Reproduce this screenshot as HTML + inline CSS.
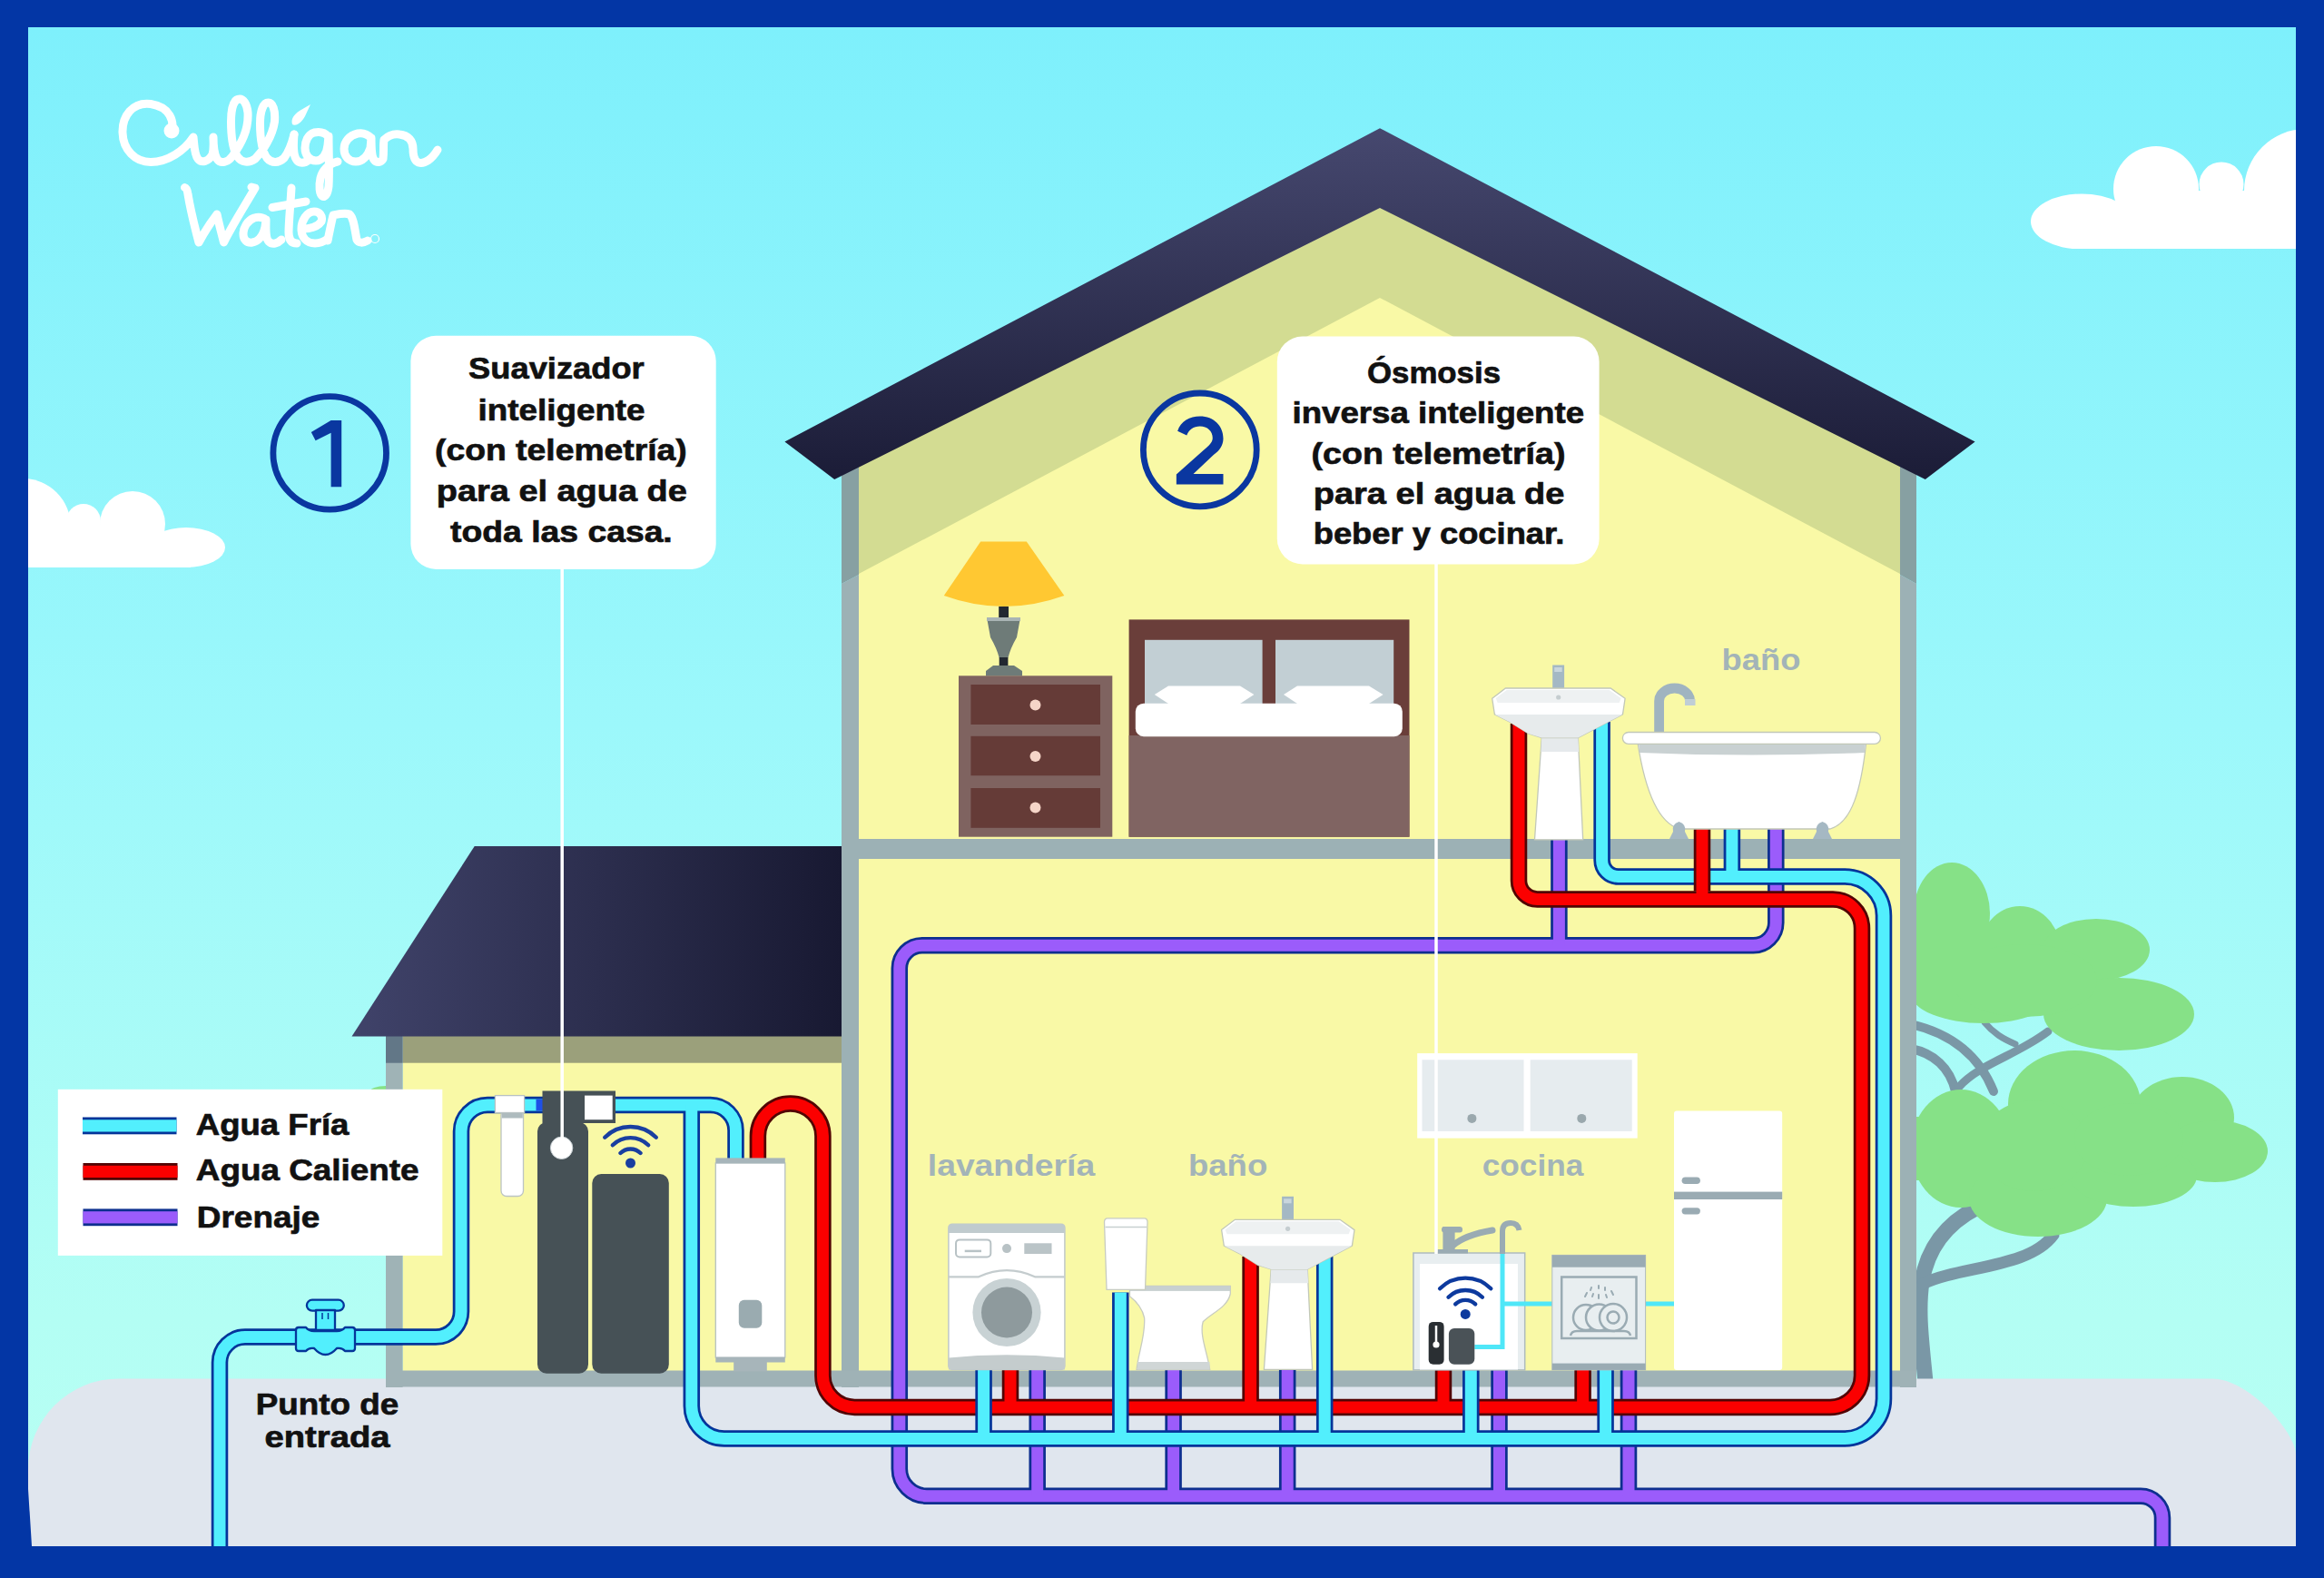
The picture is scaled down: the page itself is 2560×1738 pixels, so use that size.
<!DOCTYPE html>
<html><head><meta charset="utf-8"><title>Culligan</title>
<style>
html,body{margin:0;padding:0;background:#0336a5;}
svg{display:block;}
text{font-family:"Liberation Sans",sans-serif;font-weight:bold;}
</style></head>
<body>
<svg width="2560" height="1738" viewBox="0 0 2560 1738">
<defs>
<linearGradient id="sky" x1="0" y1="0" x2="0" y2="1">
<stop offset="0" stop-color="#7ef0fc"/>
<stop offset="0.46" stop-color="#9cf8fb"/>
<stop offset="0.85" stop-color="#b3fef4"/>
<stop offset="1" stop-color="#b8fff3"/>
</linearGradient>
<linearGradient id="roof" x1="0" y1="0" x2="0" y2="1">
<stop offset="0" stop-color="#46486f"/>
<stop offset="1" stop-color="#1b1c37"/>
</linearGradient>
<linearGradient id="groof" x1="0" y1="0" x2="1" y2="0">
<stop offset="0" stop-color="#40436a"/>
<stop offset="1" stop-color="#181932"/>
</linearGradient>
</defs>
<!-- border -->
<rect x="0" y="0" width="2560" height="1738" fill="#0336a5"/>
<!-- sky -->
<rect x="31" y="30" width="2498" height="1673" fill="url(#sky)"/>
<clipPath id="cl1"><rect x="31" y="400" width="400" height="225"/></clipPath>
<clipPath id="cl2"><rect x="2150" y="100" width="379" height="174"/></clipPath>
<g fill="#ffffff" clip-path="url(#cl1)">
<circle cx="25" cy="580" r="53"/><circle cx="92" cy="574" r="19"/><circle cx="146" cy="577" r="36"/>
<ellipse cx="205" cy="603" rx="43" ry="22"/><rect x="20" y="590" width="190" height="35"/><rect x="20" y="578" width="150" height="20"/>
</g>
<g fill="#ffffff" clip-path="url(#cl2)">
<ellipse cx="2293" cy="244" rx="56" ry="30.5"/><circle cx="2375" cy="208" r="47"/><circle cx="2447" cy="203" r="24.5"/>
<circle cx="2540" cy="210" r="68"/><rect x="2345" y="210" width="190" height="64"/><rect x="2290" y="244" width="240" height="30"/>
</g>

<g fill="none" stroke="#ffffff" stroke-width="9" stroke-linecap="round" stroke-linejoin="round">
<path d="M189 145 C192 134 188 118 166 114.5 C146 112 134.5 128 135 146 C135.5 165 149 178.5 166 178.5 C185 178.5 203 166 213 151 C214 160 214 170 218 175 C222 180 230 178 234 170 C236 163 235 156 235 151 C235 160 236 170 239 175 C243 181 251 179 256 172 C266 158 274 143 273 124 C272 114 268 109 264 109 C258 109 254.5 118 254.5 134 C254.5 152 257 166 262 173 C266 179 274 180 281 175 C290 166 300 150 302.5 134 C303.5 121 300.5 113 295.5 113 C290 113 286.5 122 286.5 136 C286.5 153 289 167 294 174 C299 180 307 180 313 174 C319 166 322 156 324 148"/>
<path d="M324 148 C323 160 323 170 326 175 C329 181 336 180 340 176"/>
<path d="M361 150 C357 145 351 145 346 146 C339 148 336 156 336 163 C336 171 341 177 348 177 C355 177 360 170 361 160 L362 150 C362 170 363 190 362 205 C361 214 358 218 355 216 C352 214 351 205 353 196 C355 188 362 180 372 178"/>
<path d="M409 152 C404 147 399 146 394 147 C385 149 379 156 379 164 C379 172 384 178 392 178 C399 178 405 172 408 163 L409 152 C409 162 409 172 412 176 C415 180 420 179 422 175 C423 167 422 160 423 154 C427 150 433 147 440 148 C450 149 455 155 455 164 C455 171 456 177 461 179 C468 181 476 175 482 165"/>
<path d="M203.5 206.5 C205.5 207 206.5 210 207 214 C210 232 215 252 219 267 C225 256 232 245 239 236 C241 246 244 257 246.5 267 C257 246 270 226 281 207 L277 206"/>
<path d="M293 242 C289 239 284 239 280 240 C272 243 268 251 268 258 C268 264 272 268 278 267 C285 266 290 259 292 250 L293 242 C293 252 292 262 296 266 C300 270 306 268 310 264"/>
<path d="M321 207 C320 225 318 245 318 256 C318 264 321 268 327 268"/>
<path d="M300 228.5 L337 222"/>
<path d="M332 252 C340 252 350 250 354 244 C356 238 352 233 346 233 C338 233 332 243 332 252 C332 262 338 268 347 268 C352 268 357 266 361 263"/>
<path d="M361 265 C363 255 365 245 367 237 C372 236 380 234 385 236 C390 240 391 255 393 264 C395 268 400 268 405 265"/>
</g>
<path d="M322 137 C320 131 324 126 330 122 L342 115 L336 128 C333 134 326 140 322 137 Z" fill="#ffffff"/>
<circle cx="189" cy="144" r="8.5" fill="#ffffff"/>
<circle cx="413" cy="263" r="4.5" fill="none" stroke="#ffffff" stroke-width="1.2"/>

<g>
<g fill="none" stroke="#7a97a6" stroke-linecap="round">
<path d="M2121 1522 C2117 1480 2112 1445 2117 1412 C2123 1375 2143 1348 2178 1330" stroke-width="17"/>
<path d="M2118 1414 C2160 1394 2235 1397 2262 1360" stroke-width="13"/>
<path d="M2105 1128 C2148 1138 2180 1162 2196 1202" stroke-width="10"/>
<path d="M2105 1155 C2130 1160 2148 1176 2154 1202" stroke-width="10"/>
<path d="M2158 1197 C2180 1172 2222 1162 2256 1136" stroke-width="9"/>
<path d="M2186 1126 C2196 1138 2206 1144 2220 1150" stroke-width="7"/>
</g>
<g fill="#86e187">
<ellipse cx="2150" cy="1006" rx="42" ry="56"/>
<ellipse cx="2225" cy="1052" rx="46" ry="54"/>
<ellipse cx="2309" cy="1046" rx="59" ry="34"/>
<ellipse cx="2334" cy="1117" rx="83" ry="40"/>
<ellipse cx="2185" cy="1094" rx="80" ry="33"/>
<ellipse cx="2285" cy="1216" rx="73" ry="59"/>
<ellipse cx="2404" cy="1231" rx="57" ry="45"/>
<ellipse cx="2440" cy="1268" rx="58" ry="34"/>
<ellipse cx="2160" cy="1265" rx="55" ry="65"/>
<ellipse cx="2245" cy="1320" rx="76" ry="42"/>
<ellipse cx="2350" cy="1295" rx="70" ry="34"/>
<ellipse cx="2240" cy="1262" rx="60" ry="50"/>
<ellipse cx="2230" cy="1080" rx="80" ry="40"/>
<rect x="2105" y="1010" width="85" height="85"/>
<ellipse cx="2345" cy="1255" rx="60" ry="40"/>
<rect x="2105" y="1230" width="120" height="70"/>
</g>
</g>
<ellipse cx="425" cy="1203" rx="18" ry="7" fill="#86e187"/>

<path d="M31 1703 L31 1618 A100 100 0 0 1 131 1518.4 L2437 1518.4 C2477 1518.4 2529 1578 2529 1602 L2529 1703 Z" fill="#e0e6ee"/>
<polygon points="30,1624 35,1703 30,1703" fill="#0336a5"/>

<!-- garage -->
<rect x="443.6" y="1141" width="484" height="370" fill="#f9f9a6"/>
<rect x="443.6" y="1141" width="484" height="29.7" fill="#9ba07b"/>
<rect x="425" y="1141" width="18.6" height="387" fill="#9fb3b6"/>
<rect x="425" y="1141" width="18.6" height="29.7" fill="#627787"/>
<polygon points="522.7,932 927,932 927,1141.5 387.5,1141.5" fill="url(#groof)"/>
<!-- main house -->
<polygon points="946,500 1520,220 2093,500 2093,1511 946,1511" fill="#f9f9a6"/>
<polygon points="946,500 1520,220 2093,500 2093,632 1520,328 946,632" fill="#d3dc92"/>
<polygon points="927,500 946,500 946,633 927,643" fill="#87a0a2"/>
<polygon points="927,643 946,633 946,1528 927,1528" fill="#9cb1b5"/>
<polygon points="2093,500 2111,500 2111,643 2093,633" fill="#87a0a2"/>
<polygon points="2093,633 2111,643 2111,1528 2093,1528" fill="#9cb1b5"/>
<rect x="946" y="924" width="1147" height="22" fill="#9cb1b5"/>
<rect x="425" y="1509.5" width="1686" height="18" fill="#9fb2b6"/>
<polygon points="864.4,486.4 1520,141.2 2175.6,486.4 2120.8,528 1520,229 919.2,528" fill="url(#roof)"/>

<g fill="none" stroke="#0d2f8f" stroke-width="18.5"><path d="M1956.3 913 L1956.3 1016.3 A25 25 0 0 1 1931.3 1041.3 L1015.8 1041.3 A25 25 0 0 0 990.8 1066.3 L990.8 1617.7 A30 30 0 0 0 1020.8 1647.7 L2358 1647.7 A24 24 0 0 1 2382 1671.7 L2382 1703"/><path d="M1142.7 1647.7 L1142.7 1509"/><path d="M1292.6 1647.7 L1292.6 1509"/><path d="M1418.2 1647.7 L1418.2 1509"/><path d="M1651.5 1647.7 L1651.5 1509"/><path d="M1794 1647.7 L1794 1509"/><path d="M1717.4 1041.3 L1717.4 925"/></g>
<g fill="none" stroke="#9b5cfb" stroke-width="13"><path d="M1956.3 913 L1956.3 1016.3 A25 25 0 0 1 1931.3 1041.3 L1015.8 1041.3 A25 25 0 0 0 990.8 1066.3 L990.8 1617.7 A30 30 0 0 0 1020.8 1647.7 L2358 1647.7 A24 24 0 0 1 2382 1671.7 L2382 1703"/><path d="M1142.7 1647.7 L1142.7 1509"/><path d="M1292.6 1647.7 L1292.6 1509"/><path d="M1418.2 1647.7 L1418.2 1509"/><path d="M1651.5 1647.7 L1651.5 1509"/><path d="M1794 1647.7 L1794 1509"/><path d="M1717.4 1041.3 L1717.4 925"/></g>
<g fill="none" stroke="#520404" stroke-width="18.5"><path d="M834.9 1280 L834.9 1251.3 A35.75 35.75 0 0 1 906.4 1251.3 L906.4 1514.9 A35 35 0 0 0 941.4 1549.9 L2016 1549.9 A35 35 0 0 0 2051 1514.9 L2051 1022.4 A32 32 0 0 0 2019 990.4 L1693.5 990.4 A20.5 20.5 0 0 1 1673 969.9 L1673 797"/><path d="M1113 1549.9 L1113 1509"/><path d="M1377.6 1549.9 L1377.6 1384"/><path d="M1590 1549.9 L1590 1509"/><path d="M1743.6 1549.9 L1743.6 1509"/></g>
<g fill="none" stroke="#fb0000" stroke-width="13"><path d="M834.9 1280 L834.9 1251.3 A35.75 35.75 0 0 1 906.4 1251.3 L906.4 1514.9 A35 35 0 0 0 941.4 1549.9 L2016 1549.9 A35 35 0 0 0 2051 1514.9 L2051 1022.4 A32 32 0 0 0 2019 990.4 L1693.5 990.4 A20.5 20.5 0 0 1 1673 969.9 L1673 797"/><path d="M1113 1549.9 L1113 1509"/><path d="M1377.6 1549.9 L1377.6 1384"/><path d="M1590 1549.9 L1590 1509"/><path d="M1743.6 1549.9 L1743.6 1509"/></g>
<g fill="none" stroke="#04359a" stroke-width="18.5"><path d="M242 1703 L242 1500.6 A28 28 0 0 1 270 1472.6 L480 1472.6 A28 28 0 0 0 508 1444.6 L508 1246 A29 29 0 0 1 537 1217 L782.5 1217 A28 28 0 0 1 810.5 1245 L810.5 1280"/><path d="M761.8 1217 L761.8 1548.6 A36 36 0 0 0 797.8 1584.6 L2031 1584.6 A44 44 0 0 0 2075 1540.6 L2075 1008.5 A43 43 0 0 0 2032 965.5 L1782.6 965.5 A18 18 0 0 1 1764.6 947.5 L1764.6 795"/><path d="M1083.6 1584.6 L1083.6 1509"/><path d="M1234.3 1584.6 L1234.3 1423.5"/><path d="M1459.2 1584.6 L1459.2 1384"/><path d="M1620.3 1584.6 L1620.3 1509"/><path d="M1768.6 1584.6 L1768.6 1509"/><path d="M1907.9 965.5 L1907.9 913"/></g>
<g fill="none" stroke="#52effd" stroke-width="13"><path d="M242 1703 L242 1500.6 A28 28 0 0 1 270 1472.6 L480 1472.6 A28 28 0 0 0 508 1444.6 L508 1246 A29 29 0 0 1 537 1217 L782.5 1217 A28 28 0 0 1 810.5 1245 L810.5 1280"/><path d="M761.8 1217 L761.8 1548.6 A36 36 0 0 0 797.8 1584.6 L2031 1584.6 A44 44 0 0 0 2075 1540.6 L2075 1008.5 A43 43 0 0 0 2032 965.5 L1782.6 965.5 A18 18 0 0 1 1764.6 947.5 L1764.6 795"/><path d="M1083.6 1584.6 L1083.6 1509"/><path d="M1234.3 1584.6 L1234.3 1423.5"/><path d="M1459.2 1584.6 L1459.2 1384"/><path d="M1620.3 1584.6 L1620.3 1509"/><path d="M1768.6 1584.6 L1768.6 1509"/><path d="M1907.9 965.5 L1907.9 913"/></g>
<path d="M1875 913 L1875 981.5" fill="none" stroke="#520404" stroke-width="18.5"/><path d="M1875 913 L1875 990.4" fill="none" stroke="#fb0000" stroke-width="13"/>

<!-- lamp -->
<path d="M1080.2 596.4 L1130.8 596.4 L1172.3 656 Q1106 680 1039.8 656 Z" fill="#ffc832"/>
<rect x="1100.2" y="668" width="10.8" height="12.5" fill="#222831"/>
<path d="M1087 680 L1124 680 L1120 702 Q1113 714 1110.4 724.6 L1100.7 724.6 Q1098 714 1091 702 Z" fill="#6e7b78"/>
<rect x="1087" y="680" width="37" height="4" fill="#a9b4b4"/>
<rect x="1100.7" y="724" width="9.7" height="9.5" fill="#222831"/>
<path d="M1094 733 L1117 733 L1126 739 L1126 744.5 L1086 744.5 L1086 739 Z" fill="#6e7b78"/>
<!-- nightstand -->
<rect x="1056" y="744.3" width="169.3" height="177.4" fill="#7f6360"/>
<g fill="#653b37"><rect x="1069.4" y="754" width="142.6" height="44"/><rect x="1069.4" y="810.8" width="142.6" height="43.4"/><rect x="1069.4" y="868" width="142.6" height="43.8"/></g>
<g fill="#f5d5c8"><circle cx="1140.5" cy="776.4" r="6"/><circle cx="1140.5" cy="833" r="6"/><circle cx="1140.5" cy="889.6" r="6"/></g>
<!-- bed -->
<rect x="1243.6" y="682.4" width="308.9" height="239.3" fill="#6a3e3a"/>
<rect x="1261" y="704.8" width="129.6" height="71" fill="#c2cfd4"/>
<rect x="1405" y="704.8" width="130.2" height="71" fill="#c2cfd4"/>
<g fill="#ffffff">
<path d="M1271.8 765 L1287 755.5 L1366 755.5 L1381.4 765 L1366 775 L1287 775 Z"/>
<path d="M1414 765 L1429 755.5 L1508 755.5 L1523.6 765 L1508 775 L1429 775 Z"/>
</g>
<rect x="1243.6" y="810" width="308.9" height="111.7" fill="#806462"/>
<rect x="1250.8" y="774.7" width="294" height="36.5" rx="9" fill="#ffffff"/>
<!-- upper bath: sink -->
<g transform="translate(1643.7,758)">
<rect x="66.5" y="-25.5" width="12.9" height="26" fill="#a4b8c4"/>
<rect x="68.5" y="-23" width="8.5" height="5" fill="#c9d6dd"/>
<path d="M54.6 54 L94.6 54 L100 166.8 L46.8 166.8 Z" fill="#ffffff" stroke="#c2c8b8" stroke-width="1.3"/>
<path d="M54.6 54 L94.6 54 L95.5 70 L53.8 70 Z" fill="#e6eaec"/>
<path d="M14.7 0 L130.5 0 L146.4 11.3 L143.8 28.8 L128 37 L94.6 54.6 L54.6 54.6 L40 50 L20 37.5 L2.7 28.8 L0 11.3 Z" fill="#ffffff" stroke="#c2c8b8" stroke-width="1.3"/>
<path d="M3 29 L143.5 29 L128 37 L94.6 54.6 L54.6 54.6 L40 50 L20 37.5 Z" fill="#e7ebec"/>
<path d="M16 2 L129 2 L142 11 L140 16 L6 16 L4 11 Z" fill="#eef1f2"/>
<circle cx="73" cy="10" r="2.6" fill="#c5cdd0"/>
</g>
<!-- bathtub -->
<path d="M1827.6 808 L1827.6 772 A17 14 0 0 1 1861.6 772 L1861.6 776" fill="none" stroke="#a0b4c0" stroke-width="10.8"/>
<rect x="1856" y="770" width="11.5" height="7" fill="#c0ced6"/>
<path d="M1804 818 L2055.7 818 C2050 870 2040 906 2016 913 L1850 913 C1826 906 1812 870 1804 818 Z" fill="#ffffff" stroke="#c2c8b8" stroke-width="1.3"/>
<path d="M1805 818 L2055 818 L2054 829 Q1930 834 1806 829 Z" fill="#c9d1d2"/>
<rect x="1787.4" y="806.5" width="284" height="12.9" rx="6.4" fill="#ffffff" stroke="#c2c8b8" stroke-width="1.3"/>
<g fill="#a5b8c3">
<path d="M1839 924 L1860 924 L1856 916 Q1858 908 1849.5 905 Q1841 908 1843 916 Z"/>
<path d="M1997 924 L2018 924 L2014 916 Q2016 908 2007.5 905 Q1999 908 2001 916 Z"/>
</g>
<!-- softener area -->
<rect x="552" y="1222" width="24.5" height="95.5" rx="6" fill="#ffffff" stroke="#bcc4c4" stroke-width="1.3"/>
<rect x="552.7" y="1225.5" width="23.1" height="6" fill="#aebbbe"/>
<rect x="545.4" y="1206.6" width="32.2" height="18.9" fill="#ffffff" stroke="#b8c2c4" stroke-width="1.3"/>
<rect x="590.5" y="1210.5" width="7.5" height="13" fill="#1e50e6"/>
<rect x="592" y="1236" width="56" height="276.7" rx="10" fill="#465156"/>
<rect x="597.5" y="1201.5" width="80.5" height="35.5" fill="#465156"/>
<rect x="644" y="1206.6" width="30.7" height="26.6" fill="#ffffff"/>
<circle cx="618.6" cy="1264.3" r="12.2" fill="#ffffff" stroke="#c8d0d4" stroke-width="1"/>
<rect x="652.3" y="1293" width="84.5" height="219.7" rx="10" fill="#465156"/>
<g fill="none" stroke="#1a3fa0" stroke-width="4.4" stroke-linecap="round">
<path d="M683.5 1270 A15.6 15.6 0 0 1 705.5 1270"/>
<path d="M674.8 1261.3 A27.8 27.8 0 0 1 714.2 1261.3"/>
<path d="M666.2 1252.7 A40 40 0 0 1 722.8 1252.7"/>
</g>
<circle cx="694.5" cy="1281" r="5.5" fill="#1a3fa0"/>
<!-- water heater -->
<rect x="808.2" y="1499" width="36.6" height="11.4" fill="#a7b5ba"/>
<rect x="788.3" y="1281" width="76.5" height="214" fill="#ffffff" stroke="#b5c0c3" stroke-width="1.3"/>
<rect x="788.3" y="1275.4" width="76.5" height="5.8" fill="#a7b5ba"/>
<rect x="788.3" y="1495" width="76.5" height="5.5" fill="#a7b5ba"/>
<rect x="813.8" y="1431.7" width="25.5" height="31.1" rx="6" fill="#9aabb0"/>
<!-- washing machine -->
<rect x="1044.9" y="1348.2" width="128" height="160.3" rx="4" fill="#ffffff" stroke="#c0c8c8" stroke-width="1.5"/>
<path d="M1044.9 1357.9 L1044.9 1352.2 Q1044.9 1348.2 1048.9 1348.2 L1168.9 1348.2 Q1172.9 1348.2 1172.9 1352.2 L1172.9 1357.9 Z" fill="#c0cbce"/>
<rect x="1053" y="1365.4" width="38.3" height="19" rx="4" fill="none" stroke="#b8c2c5" stroke-width="2"/>
<line x1="1062.7" y1="1377.9" x2="1081" y2="1377.9" stroke="#b8c2c5" stroke-width="2.5"/>
<circle cx="1109" cy="1375.1" r="5" fill="#b8c2c5"/>
<rect x="1128.3" y="1369.3" width="30.2" height="11.7" fill="#bac4c7"/>
<path d="M1045 1406.3 L1078 1406.3 Q1109 1392 1140 1406.3 L1173 1406.3" fill="none" stroke="#c4ccce" stroke-width="2.2"/>
<circle cx="1109" cy="1445.5" r="37.6" fill="#c8d2d4"/>
<circle cx="1109" cy="1445.5" r="28" fill="#8e9a9d"/>
<path d="M1044.9 1495.6 Q1109 1489 1172.9 1495.6 L1172.9 1508.5 L1044.9 1508.5 Z" fill="#c4cccd"/>
<!-- toilet -->
<path d="M1244.5 1416.4 L1355.3 1416.4 L1355.3 1425 C1352 1440 1335 1446 1325.2 1455.8 C1321 1470 1330 1490 1332.7 1508.5 L1252 1508.5 C1254 1490 1262 1470 1260.6 1451.5 C1258 1440 1250 1432 1244.5 1427.8 Z" fill="#ffffff" stroke="#c8ccc0" stroke-width="1.3"/>
<rect x="1245" y="1416.4" width="110" height="5.5" fill="#c8d0d0"/>
<rect x="1253" y="1500" width="79.5" height="8.5" fill="#d0d6d6"/>
<path d="M1220 1341.8 L1260.5 1341.8 Q1264 1341.8 1264 1346 L1261.5 1420.3 L1219 1420.3 L1216.5 1346 Q1216.5 1341.8 1220 1341.8 Z" fill="#ffffff" stroke="#c8ccc0" stroke-width="1.3"/>
<line x1="1217.5" y1="1351.4" x2="1263" y2="1351.4" stroke="#c8d0d0" stroke-width="1.5"/>
<!-- lower sink -->
<g transform="translate(1345.6,1343.3)">
<rect x="66.5" y="-25.5" width="12.9" height="26" fill="#a4b8c4"/>
<rect x="68.5" y="-23" width="8.5" height="5" fill="#c9d6dd"/>
<path d="M54.6 54 L94.6 54 L100 165 L46.8 165 Z" fill="#ffffff" stroke="#c2c8b8" stroke-width="1.3"/>
<path d="M54.6 54 L94.6 54 L95.5 70 L53.8 70 Z" fill="#e6eaec"/>
<path d="M14.7 0 L130.5 0 L146.4 11.3 L143.8 28.8 L128 37 L94.6 54.6 L54.6 54.6 L40 50 L20 37.5 L2.7 28.8 L0 11.3 Z" fill="#ffffff" stroke="#c2c8b8" stroke-width="1.3"/>
<path d="M3 29 L143.5 29 L128 37 L94.6 54.6 L54.6 54.6 L40 50 L20 37.5 Z" fill="#e7ebec"/>
<path d="M16 2 L129 2 L142 11 L140 16 L6 16 L4 11 Z" fill="#eef1f2"/>
<circle cx="73" cy="10" r="2.6" fill="#c5cdd0"/>
</g>
<!-- kitchen cabinets -->
<rect x="1561.2" y="1160.1" width="242.5" height="93.5" fill="#ffffff"/>
<rect x="1566.5" y="1167.3" width="112" height="78.6" fill="#e6ecef"/>
<rect x="1685.7" y="1167.3" width="112" height="78.6" fill="#e6ecef"/>
<circle cx="1621.4" cy="1231.9" r="5" fill="#9aa8ad"/>
<circle cx="1742.3" cy="1231.9" r="5" fill="#9aa8ad"/>
<!-- fridge -->
<rect x="1844" y="1223.5" width="119.2" height="285.4" rx="3" fill="#ffffff"/>
<rect x="1844" y="1312.6" width="119.2" height="8.4" fill="#9aabb3"/>
<rect x="1852.6" y="1296.4" width="20.3" height="7.7" rx="3.8" fill="#9aabb3"/>
<rect x="1852.6" y="1330.2" width="20.3" height="7.2" rx="3.6" fill="#9aabb3"/>
<!-- RO cabinet -->
<rect x="1556.9" y="1380" width="122.8" height="128.9" fill="#e8eef0" stroke="#aebbbe" stroke-width="1.5"/>
<rect x="1564" y="1392" width="108" height="116.5" fill="#ffffff"/>
<g fill="#9aabb3">
<rect x="1583.4" y="1376" width="33.6" height="4.5"/>
<rect x="1589.4" y="1351" width="13.2" height="27"/>
<rect x="1588" y="1351" width="23" height="6.5" rx="3"/>
</g>
<path d="M1600 1372 Q1614 1360 1644 1355" fill="none" stroke="#9aabb3" stroke-width="7" stroke-linecap="round"/>
<path d="M1655 1381 L1655 1356 Q1655 1347 1664 1347 Q1672 1347 1673.5 1355" fill="none" stroke="#9aabb3" stroke-width="6"/>
<g fill="none" stroke="#4fe7f8" stroke-width="5">
<path d="M1655 1381 L1655 1483.6 L1624.3 1483.6"/>
<path d="M1655 1436 L1709.8 1436"/>
<path d="M1812.6 1436 L1844 1436"/>
</g>
<g fill="none" stroke="#0d3a9e" stroke-width="4.4" stroke-linecap="round">
<path d="M1603.2 1436.4 A15.6 15.6 0 0 1 1625.2 1436.4"/>
<path d="M1595.5 1428.7 A26.4 26.4 0 0 1 1632.9 1428.7"/>
<path d="M1586.1 1419.3 A39.7 39.7 0 0 1 1642.3 1419.3"/>
</g>
<circle cx="1614.2" cy="1447.4" r="5.5" fill="#0d3a9e"/>
<rect x="1573.7" y="1455.9" width="16.9" height="46.9" rx="5" fill="#2a2f33"/>
<line x1="1582" y1="1460" x2="1582" y2="1480" stroke="#ffffff" stroke-width="2.5"/>
<circle cx="1582" cy="1481" r="3.6" fill="#ffffff"/>
<rect x="1595.9" y="1463.1" width="28.4" height="39.7" rx="6" fill="#4a5257"/>
<!-- dishwasher -->
<rect x="1709.8" y="1382.4" width="102.8" height="126.5" fill="#e8eef0" stroke="#aebbbe" stroke-width="1"/>
<rect x="1709.8" y="1382.4" width="102.8" height="13.3" fill="#9aabb3"/>
<rect x="1709.8" y="1501.6" width="102.8" height="7.3" fill="#9aabb3"/>
<rect x="1720.2" y="1406.5" width="82.3" height="67.5" fill="none" stroke="#9aabb3" stroke-width="2.5"/>
<g fill="#e8eef0" stroke="#9aabb3" stroke-width="2.5">
<circle cx="1747" cy="1451" r="14"/><circle cx="1761.5" cy="1451" r="14.5"/><circle cx="1777" cy="1451" r="15"/><circle cx="1777" cy="1451" r="6.5"/>
</g>
<path d="M1730 1471 Q1731 1466 1737 1466 L1789 1466 Q1795 1466 1796 1471" fill="none" stroke="#9aabb3" stroke-width="2.5"/>
<g stroke="#9aabb3" stroke-width="2" stroke-linecap="round">
<line x1="1746" y1="1428" x2="1748" y2="1424"/><line x1="1752" y1="1421" x2="1753" y2="1418"/><line x1="1761" y1="1419" x2="1761" y2="1416"/><line x1="1768" y1="1418" x2="1768" y2="1421"/><line x1="1775" y1="1422" x2="1777" y2="1426"/><line x1="1761" y1="1426" x2="1761" y2="1430"/><line x1="1755" y1="1425" x2="1754" y2="1428"/><line x1="1769" y1="1426" x2="1770" y2="1429"/>
</g>
<!-- valve -->
<g fill="#52effd" stroke="#04359a" stroke-width="2.3" stroke-linejoin="round">
<rect x="337.9" y="1431.7" width="40.9" height="11.9" rx="6"/>
<rect x="348" y="1443" width="21" height="22"/>
<path d="M329 1462 L337 1462 Q340 1466 346 1466 L371 1466 Q377 1466 380 1462 L388 1462 Q391 1462 391 1465 L391 1485 Q391 1488 388 1488 L380 1488 Q377 1484 371 1485 Q365 1492 358.4 1492 Q352 1492 346 1485 Q340 1484 337 1488 L329 1488 Q326 1488 326 1485 L326 1465 Q326 1462 329 1462 Z"/>
</g>
<g stroke="#04359a" stroke-width="1.5"><line x1="355" y1="1446" x2="355" y2="1453"/><line x1="361.5" y1="1446" x2="361.5" y2="1453"/></g>


<line x1="619.2" y1="620" x2="619.2" y2="1264" stroke="#ffffff" stroke-width="3.5"/>
<line x1="1582" y1="615" x2="1582" y2="1381" stroke="#ffffff" stroke-width="3.5"/>
<rect x="452.4" y="369.8" width="336.3" height="257.2" rx="28" fill="#ffffff"/>
<rect x="1406.8" y="370.5" width="354.8" height="250.9" rx="28" fill="#ffffff"/>
<text x="612.9" y="417" font-size="34" fill="#111111" text-anchor="middle" textLength="193.7" lengthAdjust="spacingAndGlyphs" stroke="#111111" stroke-width="0.7">Suavizador</text>
<text x="618.6" y="462.6" font-size="34" fill="#111111" text-anchor="middle" textLength="184" lengthAdjust="spacingAndGlyphs" stroke="#111111" stroke-width="0.7">inteligente</text>
<text x="617.9" y="507.3" font-size="34" fill="#111111" text-anchor="middle" textLength="277.7" lengthAdjust="spacingAndGlyphs" stroke="#111111" stroke-width="0.7">(con telemetría)</text>
<text x="618.8" y="552" font-size="34" fill="#111111" text-anchor="middle" textLength="275.9" lengthAdjust="spacingAndGlyphs" stroke="#111111" stroke-width="0.7">para el agua de</text>
<text x="618.4" y="596.9" font-size="34" fill="#111111" text-anchor="middle" textLength="244.7" lengthAdjust="spacingAndGlyphs" stroke="#111111" stroke-width="0.7">toda las casa.</text>
<text x="1579.5" y="422" font-size="34" fill="#111111" text-anchor="middle" textLength="147" lengthAdjust="spacingAndGlyphs" stroke="#111111" stroke-width="0.7">Ósmosis</text>
<text x="1584.3" y="465.7" font-size="34" fill="#111111" text-anchor="middle" textLength="321.5" lengthAdjust="spacingAndGlyphs" stroke="#111111" stroke-width="0.7">inversa inteligente</text>
<text x="1584.5" y="511" font-size="34" fill="#111111" text-anchor="middle" textLength="280" lengthAdjust="spacingAndGlyphs" stroke="#111111" stroke-width="0.7">(con telemetría)</text>
<text x="1585" y="555.2" font-size="34" fill="#111111" text-anchor="middle" textLength="276.5" lengthAdjust="spacingAndGlyphs" stroke="#111111" stroke-width="0.7">para el agua de</text>
<text x="1585" y="599.3" font-size="34" fill="#111111" text-anchor="middle" textLength="276.5" lengthAdjust="spacingAndGlyphs" stroke="#111111" stroke-width="0.7">beber y cocinar.</text>
<circle cx="363.2" cy="498.9" r="62.3" fill="none" stroke="#0a37a0" stroke-width="6.8"/>
<circle cx="1321.8" cy="495.4" r="62.4" fill="none" stroke="#0a37a0" stroke-width="6.8"/>
<path d="M342.8 475.9 L364.6 463 L376.2 463 L376.2 536.2 L364.6 536.2 L364.6 476.8 L347.6 485.2 Z" fill="#0a37a0"/>
<path transform="translate(1280 445) scale(0.063371)" d="M270 470 C330 300 480 215 660 215 C900 215 1065 380 1065 600 C1065 720 1000 810 900 880 L545 1215 L1065 1215 L1065 1395 L250 1395 L250 1222 L680 840 C790 740 880 680 880 590 C880 470 790 385 660 385 C550 385 460 450 430 545 Z" fill="#0a37a0"/>
<rect x="63.8" y="1199.8" width="423.5" height="183.1" fill="#ffffff"/>
<rect x="91" y="1230.5" width="103.5" height="18.8" fill="#04359a"/><rect x="91" y="1233.3" width="103.5" height="13.2" fill="#52effd"/>
<rect x="91.5" y="1281" width="104" height="18.8" fill="#520404"/><rect x="91.5" y="1283.8" width="104" height="13.2" fill="#fb0000"/>
<rect x="91.5" y="1331.4" width="104" height="18.8" fill="#0d2f8f"/><rect x="91.5" y="1334.2" width="104" height="13.2" fill="#9b5cfb"/>
<text x="215.8" y="1249.7" font-size="34" fill="#111111" text-anchor="start" textLength="168.6" lengthAdjust="spacingAndGlyphs" stroke="#111111" stroke-width="0.7">Agua Fría</text>
<text x="215.8" y="1300.2" font-size="34" fill="#111111" text-anchor="start" textLength="245.8" lengthAdjust="spacingAndGlyphs" stroke="#111111" stroke-width="0.7">Agua Caliente</text>
<text x="216.8" y="1352.2" font-size="34" fill="#111111" text-anchor="start" textLength="135.5" lengthAdjust="spacingAndGlyphs" stroke="#111111" stroke-width="0.7">Drenaje</text>
<text x="360.5" y="1557.8" font-size="33" fill="#111111" text-anchor="middle" textLength="157.3" lengthAdjust="spacingAndGlyphs" stroke="#111111" stroke-width="0.7">Punto de</text>
<text x="360.5" y="1594.4" font-size="33" fill="#111111" text-anchor="middle" textLength="137.9" lengthAdjust="spacingAndGlyphs" stroke="#111111" stroke-width="0.7">entrada</text>
<text x="1114" y="1294.9" font-size="33" fill="#a3b4b8" text-anchor="middle" textLength="184.4" lengthAdjust="spacingAndGlyphs">lavandería</text>
<text x="1352.6" y="1295" font-size="33" fill="#a3b4b8" text-anchor="middle" textLength="87.2" lengthAdjust="spacingAndGlyphs">baño</text>
<text x="1688.5" y="1294.5" font-size="33" fill="#a3b4b8" text-anchor="middle" textLength="111.5" lengthAdjust="spacingAndGlyphs">cocina</text>
<text x="1940" y="737.6" font-size="33" fill="#a3b4b8" text-anchor="middle" textLength="87.1" lengthAdjust="spacingAndGlyphs">baño</text>

</svg>
</body></html>
